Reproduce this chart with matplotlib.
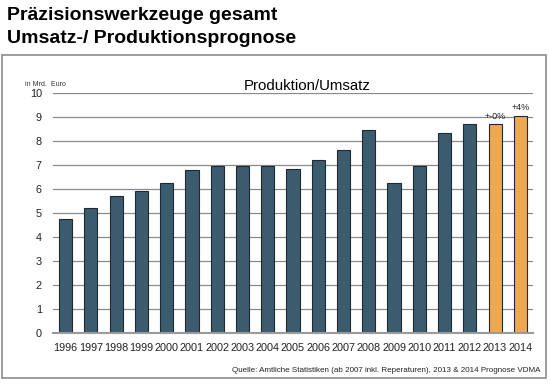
import matplotlib
matplotlib.use("Agg")
import matplotlib.pyplot as plt
from matplotlib.patches import Rectangle

plt.rcParams['font.family'] = ['Liberation Sans', 'DejaVu Sans']

# data
years = ['1996', '1997', '1998', '1999', '2000', '2001', '2002', '2003', '2004', '2005',
         '2006', '2007', '2008', '2009', '2010', '2011', '2012', '2013', '2014']
umsatz = [4.74, 5.22, 5.71, 5.90, 6.26, 6.79, 6.96, 6.96, 6.96, 6.85,
          7.21, 7.64, 8.46, 6.25, 6.96, 8.35, 8.70, 8.69, 9.04]
prognose = [False] * 17 + [True, True]
labels = {'2013': '+-0%', '2014': '+4%'}

blue = '#3b5b6e'
orange = '#eda950'

fig = plt.figure(figsize=(5.5, 3.85), dpi=100)

# outer frame of the slide chart
fig.patches.append(Rectangle((2 / 550, 1 - 378 / 385), 544 / 550, 323 / 385,
                             transform=fig.transFigure, fill=False,
                             edgecolor='#8c8c8c', linewidth=1.2))

fig.text(7 / 550, 1 - 20 / 385, 'Präzisionswerkzeuge gesamt', fontsize=14,
         fontweight='bold', ha='left', va='baseline')
fig.text(7 / 550, 1 - 43 / 385, 'Umsatz-/ Produktionsprognose', fontsize=14,
         fontweight='bold', ha='left', va='baseline')

ax = fig.add_axes([53 / 550, 1 - 333 / 385, 480 / 550, 240 / 385])
x = list(range(len(years)))
colors = [orange if p else blue for p in prognose]
bars = ax.bar(x, umsatz, width=0.52, color=colors, edgecolor='#1e2a30',
              linewidth=0.8, zorder=3)

for rect, yr in zip(bars, years):
    if yr in labels:
        ax.text(rect.get_x() + rect.get_width() / 2, rect.get_height() + 0.15,
                labels[yr], ha='center', va='bottom', fontsize=6.5, color='#222222')

ax.set_xlim(-0.5, len(years) - 0.5)
ax.set_ylim(0, 10)
ax.set_yticks(range(0, 11))
ax.set_xticks(x)
ax.set_xticklabels(years)
ax.tick_params(axis='both', length=0, labelsize=7.8, colors='#222222')
ax.tick_params(axis='y', pad=8)
ax.tick_params(axis='x', pad=7)
ax.yaxis.grid(True, color='#8a8a8a', linewidth=0.9, zorder=0)
for s in ['top', 'right', 'left']:
    ax.spines[s].set_visible(False)
ax.spines['bottom'].set_color('#9a9a9a')
ax.spines['bottom'].set_linewidth(1.5)
ax.spines['bottom'].set_zorder(4)

fig.text(25 / 550, 1 - 84 / 385, 'in Mrd.  Euro', fontsize=5, color='#333333',
         ha='left', va='center')
fig.text(307 / 550, 1 - 86 / 385, 'Produktion/Umsatz', fontsize=10.8,
         ha='center', va='center')
fig.text(541 / 550, 1 - 371 / 385,
         'Quelle: Amtliche Statistiken (ab 2007 inkl. Reperaturen), 2013 & 2014 Prognose VDMA',
         fontsize=5.8, ha='right', va='center', color='#222222')

fig.savefig('out.png', dpi=100)
